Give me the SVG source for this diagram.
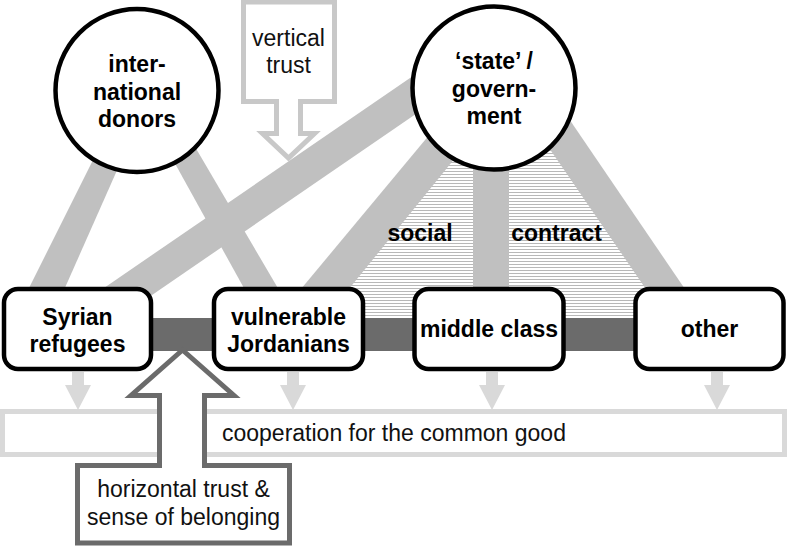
<svg xmlns="http://www.w3.org/2000/svg" width="787" height="546" viewBox="0 0 787 546">
<style>
.band{fill:#c0c0c0}
.node{fill:#fff;stroke:#000;stroke-width:4.5}
.bt{font-family:"Liberation Sans",Arial,sans-serif;font-weight:bold;font-size:23px;fill:#000;text-anchor:middle}
.rt{font-family:"Liberation Sans",Arial,sans-serif;font-size:23px;fill:#111;text-anchor:middle}
.down{fill:#d9d9d9}
</style>
<defs>
<pattern id="hatch" width="10" height="3" patternUnits="userSpaceOnUse">
<rect x="0" y="0" width="10" height="1" fill="#b8b8b8"/>
</pattern>
</defs>
<rect width="787" height="546" fill="#fff"/>
<g id="hatch-area">
<polygon points="480,120 535,120 668,318 322,318" fill="url(#hatch)"/>
</g>
<g id="vertical-trust">
<path d="M243.5,2 L334.5,2 L334.5,101.5 L300.5,101.5 L300.5,133.5 L314.5,133.5 L288.5,158 L262.5,133.5 L276.5,133.5 L276.5,101.5 L243.5,101.5 Z" fill="#fff" stroke="#c8c8c8" stroke-width="5"/>
<text class="rt" x="288.5" y="46">vertical</text>
<text class="rt" x="288.5" y="73">trust</text>
</g>
<g id="connectors">
<polygon class="band" points="98,150 126,150 64,290 28,290"/>
<polygon class="band" points="162,140 191,140 279,290 245,290"/>
<polygon class="band" points="445,54 445,94 100,330.7 100,290.7"/>
<polygon class="band" points="450,110 494,110 344,295 296,295"/>
<rect class="band" x="473" y="110" width="36" height="185"/>
<polygon class="band" points="523,110 563,110 689,295 650,295"/>
<rect x="150" y="318" width="490" height="33" fill="#6b6b6b"/>
<path class="down" d="M72,372 H84 V385 H91 L78,410 L65,385 H72 Z"/>
<path class="down" d="M287,372 H299 V385 H306 L293,410 L280,385 H287 Z"/>
<path class="down" d="M486,372 H498 V385 H505 L492,410 L479,385 H486 Z"/>
<path class="down" d="M711,372 H723 V385 H730 L717,410 L704,385 H711 Z"/>
</g>
<g id="donors">
<circle class="node" cx="137" cy="90.5" r="81.5"/>
<text class="bt" x="137" y="72">inter-</text>
<text class="bt" x="137" y="100">national</text>
<text class="bt" x="137" y="127">donors</text>
</g>
<g id="state">
<circle class="node" cx="494" cy="88" r="81.5"/>
<text class="bt" x="494" y="69">‘state’ /</text>
<text class="bt" x="494" y="97">govern-</text>
<text class="bt" x="494" y="124">ment</text>
</g>
<g id="social-contract">
<text class="bt" x="420" y="241">social</text>
<text class="bt" x="556.5" y="241">contract</text>
</g>
<g id="syrian">
<rect class="node" x="4" y="289" width="147" height="80" rx="14"/>
<text class="bt" x="77.5" y="325">Syrian</text>
<text class="bt" x="77.5" y="352">refugees</text>
</g>
<g id="jordanians">
<rect class="node" x="214" y="289" width="149" height="80" rx="14"/>
<text class="bt" x="288.5" y="325">vulnerable</text>
<text class="bt" x="288.5" y="352">Jordanians</text>
</g>
<g id="middle">
<rect class="node" x="414.5" y="289" width="149" height="80" rx="14"/>
<text class="bt" x="489" y="337">middle class</text>
</g>
<g id="other">
<rect class="node" x="635.5" y="289" width="148" height="80" rx="14"/>
<text class="bt" x="709.5" y="337">other</text>
</g>
<g id="cooperation">
<rect x="2.5" y="411.5" width="782" height="43" fill="#fff" stroke="#d9d9d9" stroke-width="5"/>
<text class="rt" x="222" y="441" style="text-anchor:start">cooperation for the common good</text>
</g>
<g id="horizontal-trust">
<path d="M182.5,350 L234,395.5 L204.5,395.5 L204.5,465.5 L289.5,465.5 L289.5,543 L77.5,543 L77.5,465.5 L159.5,465.5 L159.5,395.5 L131,395.5 Z" fill="#fff" stroke="#6b6b6b" stroke-width="5"/>
<text class="rt" x="183.5" y="497">horizontal trust &amp;</text>
<text class="rt" x="183.5" y="525">sense of belonging</text>
</g>
</svg>
